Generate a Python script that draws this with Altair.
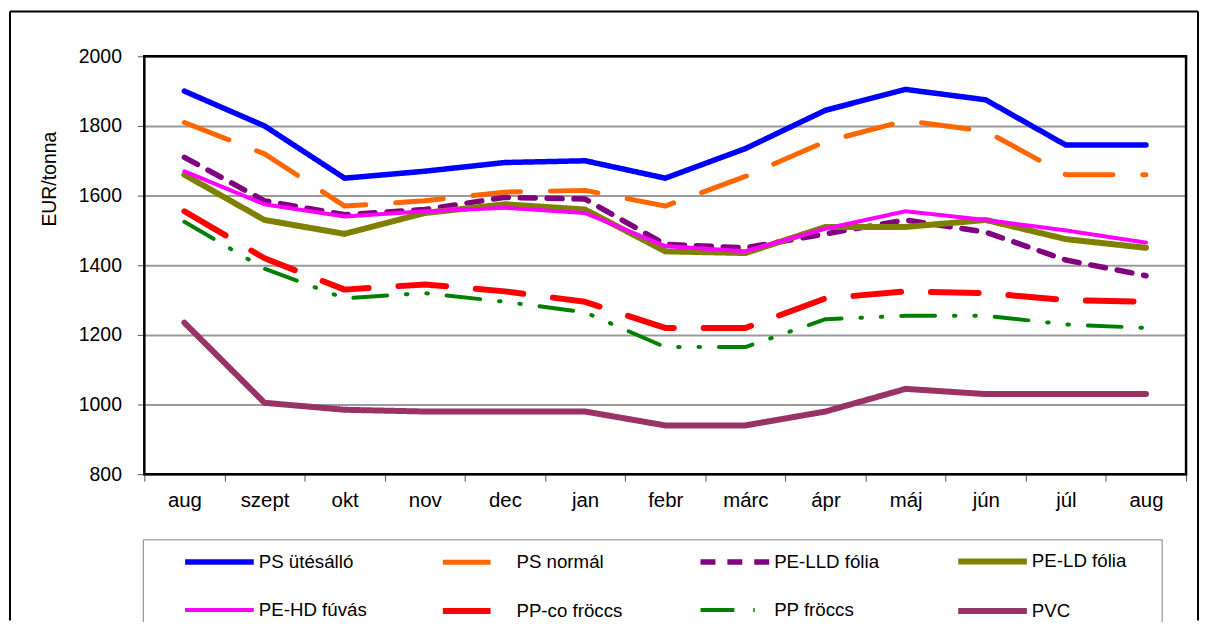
import altair as alt
import pandas as pd

months = ["aug", "szept", "okt", "nov", "dec", "jan", "febr", "márc", "ápr", "máj", "jún", "júl", "aug"]

series_names = ["PS ütésálló", "PS normál", "PE-LLD fólia", "PE-LD fólia",
                "PE-HD fúvás", "PP-co fröccs", "PP fröccs", "PVC"]

ps_utesallo = [1900, 1800, 1650, 1670, 1695, 1700, 1650, 1735, 1845, 1905, 1875, 1745, 1745]
ps_normal = [1810, 1720, 1570, 1585, 1610, 1615, 1570, 1655, 1755, 1815, 1785, 1660, 1660]
pe_lld = [1710, 1585, 1545, 1560, 1595, 1590, 1460, 1450, 1490, 1530, 1495, 1415, 1370]
pe_ld = [1660, 1530, 1490, 1550, 1575, 1560, 1440, 1435, 1510, 1510, 1530, 1475, 1450]
pe_hd = [1670, 1575, 1540, 1555, 1565, 1550, 1455, 1440, 1505, 1555, 1530, 1500, 1465]
pp_co = [1555, 1420, 1330, 1345, 1325, 1295, 1220, 1220, 1305, 1325, 1320, 1300, 1295]
pp_froccs = [1525, 1390, 1305, 1320, 1295, 1265, 1165, 1165, 1245, 1255, 1255, 1230, 1220]
pvc = [1235, 1005, 985, 980, 980, 980, 940, 940, 980, 1045, 1030, 1030, 1030]

all_values = [ps_utesallo, ps_normal, pe_lld, pe_ld, pe_hd, pp_co, pp_froccs, pvc]

colors = ["#0000FF", "#FF6600", "#800080", "#808000", "#FF00FF", "#FF0000", "#008000", "#993366"]
dashes = [[1, 0], [48, 30], [15, 12], [1, 0], [1, 0], [48, 30], [34, 19, 1.5, 19, 1.5, 19], [1, 0]]
widths = [5.5, 5, 5.5, 6, 4, 6, 4, 6]

y_ticks = [800, 1000, 1200, 1400, 1600, 1800, 2000]

rows = []
for name, vals in zip(series_names, all_values):
    for i, v in enumerate(vals):
        rows.append({"series": name, "idx": i, "value": v})
df = pd.DataFrame(rows)

# legend is laid out column by column (2 rows), so interleave the order
order = [0, 4, 1, 5, 2, 6, 3, 7]
leg_domain = [series_names[i] for i in order]
leg_colors = [colors[i] for i in order]
leg_dashes = [dashes[i] for i in order]
leg_widths = [widths[i] for i in order]

label_expr = "[" + ",".join("'" + m + "'" for m in months) + "][datum.value]"
FONT = "Liberation Sans"

W, H = 1047, 420

lines = alt.Chart(df).mark_line(strokeCap="round", strokeJoin="round").encode(
    x=alt.X("idx:O", bandPosition=0.5,
            scale=alt.Scale(type="band", paddingInner=0, paddingOuter=0),
            axis=alt.Axis(title=None, labelExpr=label_expr, labelAngle=0, tickBand="extent",
                          domain=False, grid=False, ticks=True, tickSize=7, tickColor="#555555",
                          tickWidth=1, labelFontSize=20.5, labelPadding=9, labelColor="black",
                          labelFont=FONT)),
    y=alt.Y("value:Q", scale=alt.Scale(domain=[800, 2000], nice=False, zero=False),
            axis=alt.Axis(values=y_ticks, format="d", title="EUR/tonna", domain=False, grid=True,
                          gridColor="#9a9a9a", gridWidth=2, tickSize=7, tickColor="#555555",
                          tickWidth=1, labelFontSize=19.5, labelPadding=16, labelColor="black",
                          labelFont=FONT, titleFont=FONT, titleFontSize=19.5,
                          titleFontWeight="normal", titleColor="black", titleX=-95, titleY=123,
                          titleAngle=270, titleAlign="center", titleBaseline="middle")),
    color=alt.Color("series:N", scale=alt.Scale(domain=leg_domain, range=leg_colors),
                    legend=alt.Legend(title=None, orient="none", legendX=38, legendY=470,
                                      columns=4, gridAlign="all", columnPadding=64,
                                      rowPadding=-25, symbolType="stroke", symbolSize=4761,
                                      labelFontSize=18.8, labelFont=FONT, labelColor="black",
                                      labelOffset=2, padding=0, labelLimit=300)),
    strokeDash=alt.StrokeDash("series:N", scale=alt.Scale(domain=leg_domain, range=leg_dashes)),
    strokeWidth=alt.StrokeWidth("series:N", scale=alt.Scale(type="ordinal", domain=leg_domain, range=leg_widths)),
)

one = alt.Data(values=[{"a": 1}])

plot_border = alt.Chart(one).mark_rect(fillOpacity=0, stroke="black", strokeWidth=2.5).encode(
    x=alt.value(0), x2=alt.value(W), y=alt.value(0), y2=alt.value(H))

legend_box = alt.Chart(one).mark_rect(fillOpacity=0, stroke="#808080", strokeWidth=1).encode(
    x=alt.value(-1), x2=alt.value(1023), y=alt.value(486), y2=alt.value(572))

outer_left = alt.Chart(one).mark_rule(color="black", strokeWidth=2).encode(
    x=alt.value(-135), y=alt.value(-45), y2=alt.value(567))
outer_top = alt.Chart(one).mark_rule(color="black", strokeWidth=2).encode(
    x=alt.value(-135), x2=alt.value(1059), y=alt.value(-45))
outer_right = alt.Chart(one).mark_rule(color="black", strokeWidth=2).encode(
    x=alt.value(1059), y=alt.value(-45), y2=alt.value(567))

chart = alt.layer(lines, plot_border, legend_box, outer_left, outer_top, outer_right).properties(
    width=W, height=H,
    padding={"left": 137, "top": 47, "right": 14, "bottom": 147},
    autosize=alt.AutoSizeParams(type="none"),
    background="white",
).configure_view(strokeWidth=0)

chart.save("out.html", embed_options={"renderer": "svg", "actions": False})
